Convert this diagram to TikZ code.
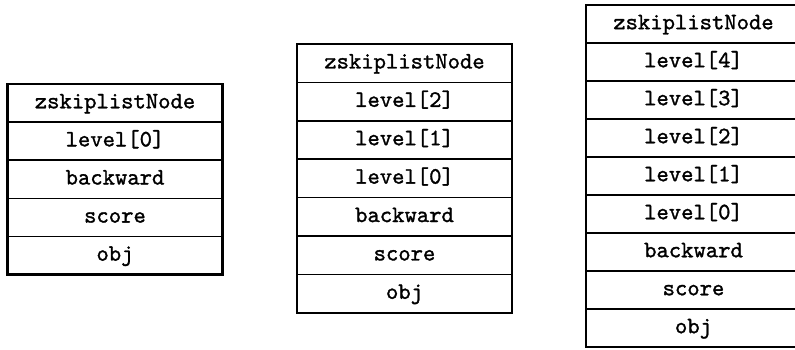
\documentclass[tikz,border=0pt]{standalone}
\usepackage{fontspec}
\usetikzlibrary{positioning}
\newfontfamily\cellfamily{lmmono10-regular.otf}[FakeBold=1.3]
\newcommand{\cellfont}{\cellfamily\fontsize{23.5}{23.5}\selectfont}
\begin{document}
\begin{tikzpicture}[x=1pt,y=-1pt,
  cell/.style={draw, line width=1.5pt, minimum width=215pt, inner sep=0pt, outer sep=0pt,
    font=\cellfont, text height=14.5pt, text depth=4pt, anchor=north},
  frame/.style={draw, line width=2.2pt}]
\useasboundingbox (0,0) rectangle (795,350);
% left node
\begin{scope}[every node/.append style={minimum height=38.1pt, minimum width=216pt}]
\node[cell] (a0) at (115,84) {zskiplistNode};
\node[cell, below=0pt of a0] (a1) {level[0]};
\node[cell, below=0pt of a1] (a2) {backward};
\node[cell, below=0pt of a2] (a3) {score};
\node[cell, below=0pt of a3] (a4) {obj};
\end{scope}
\draw[frame] (a0.north west) rectangle (a4.south east);
% middle node
\begin{scope}[every node/.append style={minimum height=38.4pt}]
\node[cell] (b0) at (404.5,44) {zskiplistNode};
\node[cell, below=0pt of b0] (b1) {level[2]};
\node[cell, below=0pt of b1] (b2) {level[1]};
\node[cell, below=0pt of b2] (b3) {level[0]};
\node[cell, below=0pt of b3] (b4) {backward};
\node[cell, below=0pt of b4] (b5) {score};
\node[cell, below=0pt of b5] (b6) {obj};
\end{scope}
\draw[frame] (b0.north west) rectangle (b6.south east);
% right node
\begin{scope}[every node/.append style={minimum height=38pt}]
\node[cell] (c0) at (693.5,5) {zskiplistNode};
\node[cell, below=0pt of c0] (c1) {level[4]};
\node[cell, below=0pt of c1] (c2) {level[3]};
\node[cell, below=0pt of c2] (c3) {level[2]};
\node[cell, below=0pt of c3] (c4) {level[1]};
\node[cell, below=0pt of c4] (c5) {level[0]};
\node[cell, below=0pt of c5] (c6) {backward};
\node[cell, below=0pt of c6] (c7) {score};
\node[cell, below=0pt of c7] (c8) {obj};
\end{scope}
\draw[frame] (c0.north west) rectangle (c8.south east);
\end{tikzpicture}
\end{document}
